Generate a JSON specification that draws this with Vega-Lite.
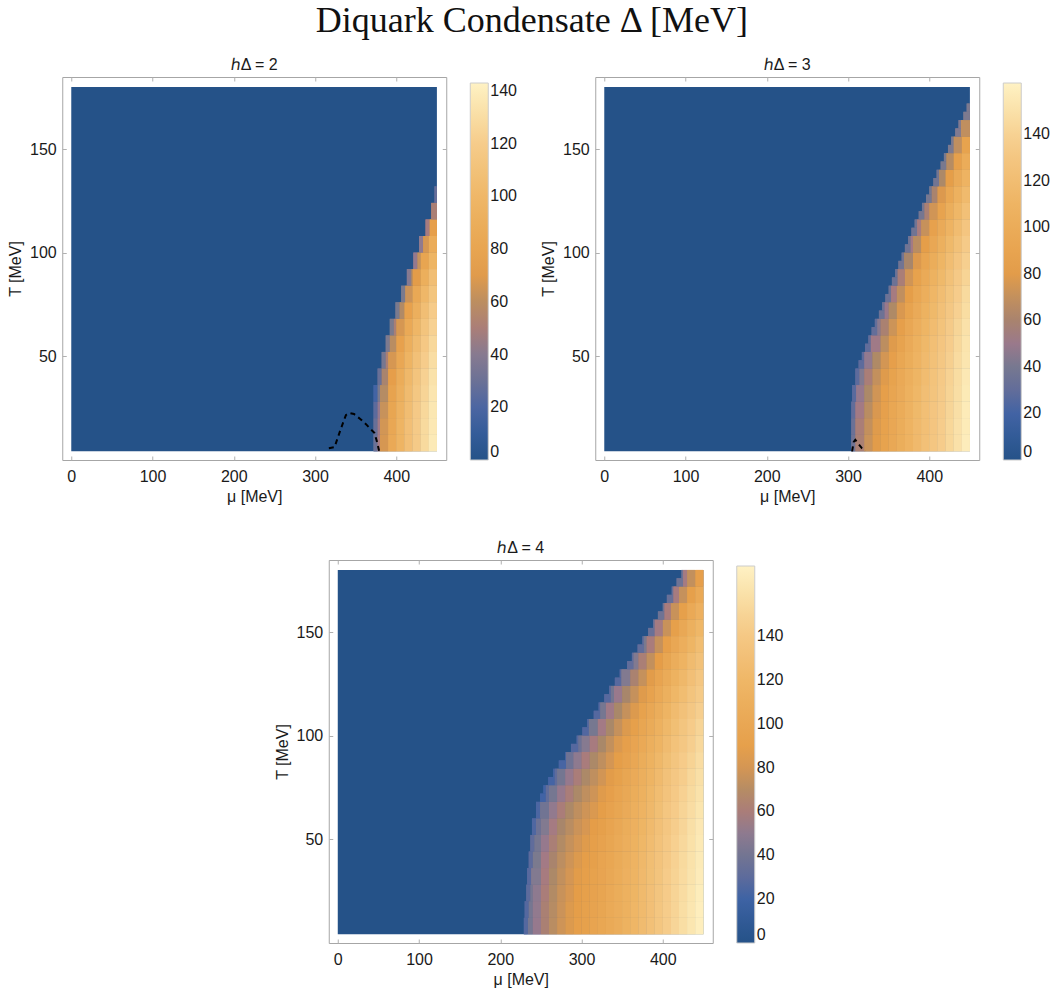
{
  "$schema": "https://vega.github.io/schema/vega-lite/v6.json",
  "background": "white",
  "padding": {"top": 3, "left": 7, "right": 5, "bottom": 5},
  "title": {"text": "Diquark Condensate Δ [MeV]", "font": "Liberation Serif", "fontSize": 36, "fontWeight": "normal", "color": "#111111", "anchor": "middle", "frame": "bounds", "offset": 16},
  "datasets": {
    "cells": [
      {"h":2,"t0":4,"t1":180,"m0":0,"m1":450,"D":0},
      {"h":2,"t0":4,"t1":12,"m0":372,"m1":377,"D":30},{"h":2,"t0":4,"t1":12,"m0":377,"m1":380,"D":48},{"h":2,"t0":4,"t1":12,"m0":380,"m1":390,"D":67},{"h":2,"t0":4,"t1":12,"m0":390,"m1":400,"D":85},{"h":2,"t0":4,"t1":12,"m0":400,"m1":410,"D":97},{"h":2,"t0":4,"t1":12,"m0":410,"m1":420,"D":108},{"h":2,"t0":4,"t1":12,"m0":420,"m1":430,"D":118},{"h":2,"t0":4,"t1":12,"m0":430,"m1":440,"D":128},{"h":2,"t0":4,"t1":12,"m0":440,"m1":450,"D":138},
      {"h":2,"t0":12,"t1":20,"m0":372,"m1":377,"D":29},{"h":2,"t0":12,"t1":20,"m0":377,"m1":380,"D":46},{"h":2,"t0":12,"t1":20,"m0":380,"m1":390,"D":66},{"h":2,"t0":12,"t1":20,"m0":390,"m1":400,"D":83},{"h":2,"t0":12,"t1":20,"m0":400,"m1":410,"D":97},{"h":2,"t0":12,"t1":20,"m0":410,"m1":420,"D":108},{"h":2,"t0":12,"t1":20,"m0":420,"m1":430,"D":118},{"h":2,"t0":12,"t1":20,"m0":430,"m1":440,"D":128},{"h":2,"t0":12,"t1":20,"m0":440,"m1":450,"D":137},
      {"h":2,"t0":20,"t1":28,"m0":372,"m1":377,"D":25},{"h":2,"t0":20,"t1":28,"m0":377,"m1":380,"D":43},{"h":2,"t0":20,"t1":28,"m0":380,"m1":390,"D":63},{"h":2,"t0":20,"t1":28,"m0":390,"m1":400,"D":81},{"h":2,"t0":20,"t1":28,"m0":400,"m1":410,"D":95},{"h":2,"t0":20,"t1":28,"m0":410,"m1":420,"D":106},{"h":2,"t0":20,"t1":28,"m0":420,"m1":430,"D":117},{"h":2,"t0":20,"t1":28,"m0":430,"m1":440,"D":127},{"h":2,"t0":20,"t1":28,"m0":440,"m1":450,"D":136},
      {"h":2,"t0":28,"t1":36,"m0":372,"m1":377,"D":18},{"h":2,"t0":28,"t1":36,"m0":377,"m1":380,"D":37},{"h":2,"t0":28,"t1":36,"m0":380,"m1":390,"D":58},{"h":2,"t0":28,"t1":36,"m0":390,"m1":400,"D":78},{"h":2,"t0":28,"t1":36,"m0":400,"m1":410,"D":92},{"h":2,"t0":28,"t1":36,"m0":410,"m1":420,"D":104},{"h":2,"t0":28,"t1":36,"m0":420,"m1":430,"D":115},{"h":2,"t0":28,"t1":36,"m0":430,"m1":440,"D":125},{"h":2,"t0":28,"t1":36,"m0":440,"m1":450,"D":135},
      {"h":2,"t0":36,"t1":44,"m0":377,"m1":382,"D":29},{"h":2,"t0":36,"t1":44,"m0":382,"m1":390,"D":53},{"h":2,"t0":36,"t1":44,"m0":390,"m1":400,"D":73},{"h":2,"t0":36,"t1":44,"m0":400,"m1":410,"D":88},{"h":2,"t0":36,"t1":44,"m0":410,"m1":420,"D":101},{"h":2,"t0":36,"t1":44,"m0":420,"m1":430,"D":112},{"h":2,"t0":36,"t1":44,"m0":430,"m1":440,"D":123},{"h":2,"t0":36,"t1":44,"m0":440,"m1":450,"D":133},
      {"h":2,"t0":44,"t1":52,"m0":382,"m1":387,"D":35},{"h":2,"t0":44,"t1":52,"m0":387,"m1":390,"D":51},{"h":2,"t0":44,"t1":52,"m0":390,"m1":400,"D":67},{"h":2,"t0":44,"t1":52,"m0":400,"m1":410,"D":83},{"h":2,"t0":44,"t1":52,"m0":410,"m1":420,"D":97},{"h":2,"t0":44,"t1":52,"m0":420,"m1":430,"D":109},{"h":2,"t0":44,"t1":52,"m0":430,"m1":440,"D":120},{"h":2,"t0":44,"t1":52,"m0":440,"m1":450,"D":130},
      {"h":2,"t0":52,"t1":60,"m0":387,"m1":392,"D":38},{"h":2,"t0":52,"t1":60,"m0":392,"m1":400,"D":59},{"h":2,"t0":52,"t1":60,"m0":400,"m1":410,"D":76},{"h":2,"t0":52,"t1":60,"m0":410,"m1":420,"D":92},{"h":2,"t0":52,"t1":60,"m0":420,"m1":430,"D":104},{"h":2,"t0":52,"t1":60,"m0":430,"m1":440,"D":116},{"h":2,"t0":52,"t1":60,"m0":440,"m1":450,"D":127},
      {"h":2,"t0":60,"t1":68,"m0":392,"m1":397,"D":37},{"h":2,"t0":60,"t1":68,"m0":397,"m1":400,"D":51},{"h":2,"t0":60,"t1":68,"m0":400,"m1":410,"D":67},{"h":2,"t0":60,"t1":68,"m0":410,"m1":420,"D":85},{"h":2,"t0":60,"t1":68,"m0":420,"m1":430,"D":99},{"h":2,"t0":60,"t1":68,"m0":430,"m1":440,"D":112},{"h":2,"t0":60,"t1":68,"m0":440,"m1":450,"D":123},
      {"h":2,"t0":68,"t1":76,"m0":399,"m1":404,"D":37},{"h":2,"t0":68,"t1":76,"m0":404,"m1":410,"D":57},{"h":2,"t0":68,"t1":76,"m0":410,"m1":420,"D":76},{"h":2,"t0":68,"t1":76,"m0":420,"m1":430,"D":92},{"h":2,"t0":68,"t1":76,"m0":430,"m1":440,"D":107},{"h":2,"t0":68,"t1":76,"m0":440,"m1":450,"D":119},
      {"h":2,"t0":76,"t1":84,"m0":406,"m1":411,"D":37},{"h":2,"t0":76,"t1":84,"m0":411,"m1":420,"D":64},{"h":2,"t0":76,"t1":84,"m0":420,"m1":430,"D":84},{"h":2,"t0":76,"t1":84,"m0":430,"m1":440,"D":100},{"h":2,"t0":76,"t1":84,"m0":440,"m1":450,"D":113},
      {"h":2,"t0":84,"t1":92,"m0":413,"m1":418,"D":40},{"h":2,"t0":84,"t1":92,"m0":418,"m1":420,"D":54},{"h":2,"t0":84,"t1":92,"m0":420,"m1":430,"D":71},{"h":2,"t0":84,"t1":92,"m0":430,"m1":440,"D":91},{"h":2,"t0":84,"t1":92,"m0":440,"m1":450,"D":107},
      {"h":2,"t0":92,"t1":100,"m0":421,"m1":426,"D":43},{"h":2,"t0":92,"t1":100,"m0":426,"m1":430,"D":62},{"h":2,"t0":92,"t1":100,"m0":430,"m1":440,"D":80},{"h":2,"t0":92,"t1":100,"m0":440,"m1":450,"D":98},
      {"h":2,"t0":100,"t1":108,"m0":428,"m1":433,"D":42},{"h":2,"t0":100,"t1":108,"m0":433,"m1":440,"D":67},{"h":2,"t0":100,"t1":108,"m0":440,"m1":450,"D":88},
      {"h":2,"t0":108,"t1":116,"m0":436,"m1":441,"D":48},{"h":2,"t0":108,"t1":116,"m0":441,"m1":450,"D":74},
      {"h":2,"t0":116,"t1":124,"m0":443,"m1":450,"D":51},
      {"h":2,"t0":124,"t1":132,"m0":447,"m1":450,"D":28},

      {"h":3,"t0":4,"t1":180,"m0":0,"m1":450,"D":0},
      {"h":3,"t0":4,"t1":12,"m0":304,"m1":309,"D":36},{"h":3,"t0":4,"t1":12,"m0":309,"m1":320,"D":58},{"h":3,"t0":4,"t1":12,"m0":320,"m1":330,"D":72},{"h":3,"t0":4,"t1":12,"m0":330,"m1":340,"D":80},{"h":3,"t0":4,"t1":12,"m0":340,"m1":350,"D":88},{"h":3,"t0":4,"t1":12,"m0":350,"m1":360,"D":95},{"h":3,"t0":4,"t1":12,"m0":360,"m1":370,"D":102},{"h":3,"t0":4,"t1":12,"m0":370,"m1":380,"D":109},{"h":3,"t0":4,"t1":12,"m0":380,"m1":390,"D":116},{"h":3,"t0":4,"t1":12,"m0":390,"m1":400,"D":123},{"h":3,"t0":4,"t1":12,"m0":400,"m1":410,"D":130},{"h":3,"t0":4,"t1":12,"m0":410,"m1":420,"D":136},{"h":3,"t0":4,"t1":12,"m0":420,"m1":430,"D":143},{"h":3,"t0":4,"t1":12,"m0":430,"m1":440,"D":150},{"h":3,"t0":4,"t1":12,"m0":440,"m1":450,"D":158},
      {"h":3,"t0":12,"t1":20,"m0":304,"m1":309,"D":34},{"h":3,"t0":12,"t1":20,"m0":309,"m1":320,"D":57},{"h":3,"t0":12,"t1":20,"m0":320,"m1":330,"D":70},{"h":3,"t0":12,"t1":20,"m0":330,"m1":340,"D":79},{"h":3,"t0":12,"t1":20,"m0":340,"m1":350,"D":87},{"h":3,"t0":12,"t1":20,"m0":350,"m1":360,"D":94},{"h":3,"t0":12,"t1":20,"m0":360,"m1":370,"D":101},{"h":3,"t0":12,"t1":20,"m0":370,"m1":380,"D":109},{"h":3,"t0":12,"t1":20,"m0":380,"m1":390,"D":116},{"h":3,"t0":12,"t1":20,"m0":390,"m1":400,"D":122},{"h":3,"t0":12,"t1":20,"m0":400,"m1":410,"D":129},{"h":3,"t0":12,"t1":20,"m0":410,"m1":420,"D":136},{"h":3,"t0":12,"t1":20,"m0":420,"m1":430,"D":143},{"h":3,"t0":12,"t1":20,"m0":430,"m1":440,"D":150},{"h":3,"t0":12,"t1":20,"m0":440,"m1":450,"D":157},
      {"h":3,"t0":20,"t1":28,"m0":304,"m1":309,"D":30},{"h":3,"t0":20,"t1":28,"m0":309,"m1":320,"D":53},{"h":3,"t0":20,"t1":28,"m0":320,"m1":330,"D":67},{"h":3,"t0":20,"t1":28,"m0":330,"m1":340,"D":77},{"h":3,"t0":20,"t1":28,"m0":340,"m1":350,"D":85},{"h":3,"t0":20,"t1":28,"m0":350,"m1":360,"D":93},{"h":3,"t0":20,"t1":28,"m0":360,"m1":370,"D":100},{"h":3,"t0":20,"t1":28,"m0":370,"m1":380,"D":108},{"h":3,"t0":20,"t1":28,"m0":380,"m1":390,"D":115},{"h":3,"t0":20,"t1":28,"m0":390,"m1":400,"D":122},{"h":3,"t0":20,"t1":28,"m0":400,"m1":410,"D":129},{"h":3,"t0":20,"t1":28,"m0":410,"m1":420,"D":135},{"h":3,"t0":20,"t1":28,"m0":420,"m1":430,"D":142},{"h":3,"t0":20,"t1":28,"m0":430,"m1":440,"D":149},{"h":3,"t0":20,"t1":28,"m0":440,"m1":450,"D":157},
      {"h":3,"t0":28,"t1":36,"m0":305,"m1":310,"D":27},{"h":3,"t0":28,"t1":36,"m0":310,"m1":320,"D":49},{"h":3,"t0":28,"t1":36,"m0":320,"m1":330,"D":63},{"h":3,"t0":28,"t1":36,"m0":330,"m1":340,"D":74},{"h":3,"t0":28,"t1":36,"m0":340,"m1":350,"D":83},{"h":3,"t0":28,"t1":36,"m0":350,"m1":360,"D":91},{"h":3,"t0":28,"t1":36,"m0":360,"m1":370,"D":98},{"h":3,"t0":28,"t1":36,"m0":370,"m1":380,"D":106},{"h":3,"t0":28,"t1":36,"m0":380,"m1":390,"D":113},{"h":3,"t0":28,"t1":36,"m0":390,"m1":400,"D":121},{"h":3,"t0":28,"t1":36,"m0":400,"m1":410,"D":127},{"h":3,"t0":28,"t1":36,"m0":410,"m1":420,"D":134},{"h":3,"t0":28,"t1":36,"m0":420,"m1":430,"D":141},{"h":3,"t0":28,"t1":36,"m0":430,"m1":440,"D":148},{"h":3,"t0":28,"t1":36,"m0":440,"m1":450,"D":156},
      {"h":3,"t0":36,"t1":44,"m0":309,"m1":314,"D":28},{"h":3,"t0":36,"t1":44,"m0":314,"m1":320,"D":44},{"h":3,"t0":36,"t1":44,"m0":320,"m1":330,"D":57},{"h":3,"t0":36,"t1":44,"m0":330,"m1":340,"D":70},{"h":3,"t0":36,"t1":44,"m0":340,"m1":350,"D":79},{"h":3,"t0":36,"t1":44,"m0":350,"m1":360,"D":88},{"h":3,"t0":36,"t1":44,"m0":360,"m1":370,"D":96},{"h":3,"t0":36,"t1":44,"m0":370,"m1":380,"D":104},{"h":3,"t0":36,"t1":44,"m0":380,"m1":390,"D":111},{"h":3,"t0":36,"t1":44,"m0":390,"m1":400,"D":119},{"h":3,"t0":36,"t1":44,"m0":400,"m1":410,"D":126},{"h":3,"t0":36,"t1":44,"m0":410,"m1":420,"D":133},{"h":3,"t0":36,"t1":44,"m0":420,"m1":430,"D":140},{"h":3,"t0":36,"t1":44,"m0":430,"m1":440,"D":147},{"h":3,"t0":36,"t1":44,"m0":440,"m1":450,"D":155},
      {"h":3,"t0":44,"t1":48,"m0":313,"m1":320,"D":28},{"h":3,"t0":48,"t1":52,"m0":317,"m1":320,"D":28},{"h":3,"t0":44,"t1":52,"m0":320,"m1":330,"D":48},{"h":3,"t0":44,"t1":52,"m0":330,"m1":340,"D":64},{"h":3,"t0":44,"t1":52,"m0":340,"m1":350,"D":75},{"h":3,"t0":44,"t1":52,"m0":350,"m1":360,"D":84},{"h":3,"t0":44,"t1":52,"m0":360,"m1":370,"D":93},{"h":3,"t0":44,"t1":52,"m0":370,"m1":380,"D":101},{"h":3,"t0":44,"t1":52,"m0":380,"m1":390,"D":109},{"h":3,"t0":44,"t1":52,"m0":390,"m1":400,"D":117},{"h":3,"t0":44,"t1":52,"m0":400,"m1":410,"D":124},{"h":3,"t0":44,"t1":52,"m0":410,"m1":420,"D":131},{"h":3,"t0":44,"t1":52,"m0":420,"m1":430,"D":138},{"h":3,"t0":44,"t1":52,"m0":430,"m1":440,"D":146},{"h":3,"t0":44,"t1":52,"m0":440,"m1":450,"D":153},
      {"h":3,"t0":52,"t1":56,"m0":321,"m1":328,"D":30},{"h":3,"t0":56,"t1":60,"m0":325,"m1":328,"D":30},{"h":3,"t0":52,"t1":60,"m0":328,"m1":340,"D":52},{"h":3,"t0":52,"t1":60,"m0":340,"m1":350,"D":68},{"h":3,"t0":52,"t1":60,"m0":350,"m1":360,"D":79},{"h":3,"t0":52,"t1":60,"m0":360,"m1":370,"D":89},{"h":3,"t0":52,"t1":60,"m0":370,"m1":380,"D":98},{"h":3,"t0":52,"t1":60,"m0":380,"m1":390,"D":106},{"h":3,"t0":52,"t1":60,"m0":390,"m1":400,"D":114},{"h":3,"t0":52,"t1":60,"m0":400,"m1":410,"D":122},{"h":3,"t0":52,"t1":60,"m0":410,"m1":420,"D":129},{"h":3,"t0":52,"t1":60,"m0":420,"m1":430,"D":136},{"h":3,"t0":52,"t1":60,"m0":430,"m1":440,"D":144},{"h":3,"t0":52,"t1":60,"m0":440,"m1":450,"D":152},
      {"h":3,"t0":60,"t1":64,"m0":329,"m1":336,"D":31},{"h":3,"t0":64,"t1":68,"m0":333,"m1":336,"D":31},{"h":3,"t0":60,"t1":68,"m0":336,"m1":340,"D":46},{"h":3,"t0":60,"t1":68,"m0":340,"m1":350,"D":59},{"h":3,"t0":60,"t1":68,"m0":350,"m1":360,"D":73},{"h":3,"t0":60,"t1":68,"m0":360,"m1":370,"D":84},{"h":3,"t0":60,"t1":68,"m0":370,"m1":380,"D":94},{"h":3,"t0":60,"t1":68,"m0":380,"m1":390,"D":103},{"h":3,"t0":60,"t1":68,"m0":390,"m1":400,"D":111},{"h":3,"t0":60,"t1":68,"m0":400,"m1":410,"D":119},{"h":3,"t0":60,"t1":68,"m0":410,"m1":420,"D":126},{"h":3,"t0":60,"t1":68,"m0":420,"m1":430,"D":134},{"h":3,"t0":60,"t1":68,"m0":430,"m1":440,"D":142},{"h":3,"t0":60,"t1":68,"m0":440,"m1":450,"D":150},
      {"h":3,"t0":68,"t1":72,"m0":338,"m1":345,"D":35},{"h":3,"t0":72,"t1":76,"m0":342,"m1":345,"D":35},{"h":3,"t0":68,"t1":76,"m0":345,"m1":350,"D":50},{"h":3,"t0":68,"t1":76,"m0":350,"m1":360,"D":64},{"h":3,"t0":68,"t1":76,"m0":360,"m1":370,"D":77},{"h":3,"t0":68,"t1":76,"m0":370,"m1":380,"D":89},{"h":3,"t0":68,"t1":76,"m0":380,"m1":390,"D":98},{"h":3,"t0":68,"t1":76,"m0":390,"m1":400,"D":107},{"h":3,"t0":68,"t1":76,"m0":400,"m1":410,"D":115},{"h":3,"t0":68,"t1":76,"m0":410,"m1":420,"D":123},{"h":3,"t0":68,"t1":76,"m0":420,"m1":430,"D":131},{"h":3,"t0":68,"t1":76,"m0":430,"m1":440,"D":139},{"h":3,"t0":68,"t1":76,"m0":440,"m1":450,"D":147},
      {"h":3,"t0":76,"t1":80,"m0":346,"m1":353,"D":35},{"h":3,"t0":80,"t1":84,"m0":350,"m1":353,"D":35},{"h":3,"t0":76,"t1":84,"m0":353,"m1":360,"D":54},{"h":3,"t0":76,"t1":84,"m0":360,"m1":370,"D":69},{"h":3,"t0":76,"t1":84,"m0":370,"m1":380,"D":82},{"h":3,"t0":76,"t1":84,"m0":380,"m1":390,"D":93},{"h":3,"t0":76,"t1":84,"m0":390,"m1":400,"D":103},{"h":3,"t0":76,"t1":84,"m0":400,"m1":410,"D":112},{"h":3,"t0":76,"t1":84,"m0":410,"m1":420,"D":120},{"h":3,"t0":76,"t1":84,"m0":420,"m1":430,"D":128},{"h":3,"t0":76,"t1":84,"m0":430,"m1":440,"D":136},{"h":3,"t0":76,"t1":84,"m0":440,"m1":450,"D":145},
      {"h":3,"t0":84,"t1":88,"m0":354,"m1":361,"D":35},{"h":3,"t0":88,"t1":92,"m0":358,"m1":361,"D":35},{"h":3,"t0":84,"t1":92,"m0":361,"m1":370,"D":57},{"h":3,"t0":84,"t1":92,"m0":370,"m1":380,"D":74},{"h":3,"t0":84,"t1":92,"m0":380,"m1":390,"D":87},{"h":3,"t0":84,"t1":92,"m0":390,"m1":400,"D":97},{"h":3,"t0":84,"t1":92,"m0":400,"m1":410,"D":107},{"h":3,"t0":84,"t1":92,"m0":410,"m1":420,"D":115},{"h":3,"t0":84,"t1":92,"m0":420,"m1":430,"D":124},{"h":3,"t0":84,"t1":92,"m0":430,"m1":440,"D":133},{"h":3,"t0":84,"t1":92,"m0":440,"m1":450,"D":141},
      {"h":3,"t0":92,"t1":96,"m0":362,"m1":369,"D":37},{"h":3,"t0":96,"t1":100,"m0":366,"m1":369,"D":37},{"h":3,"t0":92,"t1":100,"m0":369,"m1":380,"D":61},{"h":3,"t0":92,"t1":100,"m0":380,"m1":390,"D":78},{"h":3,"t0":92,"t1":100,"m0":390,"m1":400,"D":91},{"h":3,"t0":92,"t1":100,"m0":400,"m1":410,"D":101},{"h":3,"t0":92,"t1":100,"m0":410,"m1":420,"D":111},{"h":3,"t0":92,"t1":100,"m0":420,"m1":430,"D":120},{"h":3,"t0":92,"t1":100,"m0":430,"m1":440,"D":129},{"h":3,"t0":92,"t1":100,"m0":440,"m1":450,"D":138},
      {"h":3,"t0":100,"t1":104,"m0":370,"m1":377,"D":37},{"h":3,"t0":104,"t1":108,"m0":374,"m1":377,"D":37},{"h":3,"t0":100,"t1":108,"m0":377,"m1":380,"D":53},{"h":3,"t0":100,"t1":108,"m0":380,"m1":390,"D":67},{"h":3,"t0":100,"t1":108,"m0":390,"m1":400,"D":82},{"h":3,"t0":100,"t1":108,"m0":400,"m1":410,"D":94},{"h":3,"t0":100,"t1":108,"m0":410,"m1":420,"D":105},{"h":3,"t0":100,"t1":108,"m0":420,"m1":430,"D":115},{"h":3,"t0":100,"t1":108,"m0":430,"m1":440,"D":124},{"h":3,"t0":100,"t1":108,"m0":440,"m1":450,"D":134},
      {"h":3,"t0":108,"t1":112,"m0":378,"m1":385,"D":37},{"h":3,"t0":112,"t1":116,"m0":382,"m1":385,"D":37},{"h":3,"t0":108,"t1":116,"m0":385,"m1":390,"D":55},{"h":3,"t0":108,"t1":116,"m0":390,"m1":400,"D":71},{"h":3,"t0":108,"t1":116,"m0":400,"m1":410,"D":86},{"h":3,"t0":108,"t1":116,"m0":410,"m1":420,"D":98},{"h":3,"t0":108,"t1":116,"m0":420,"m1":430,"D":109},{"h":3,"t0":108,"t1":116,"m0":430,"m1":440,"D":119},{"h":3,"t0":108,"t1":116,"m0":440,"m1":450,"D":129},
      {"h":3,"t0":116,"t1":120,"m0":387,"m1":394,"D":39},{"h":3,"t0":120,"t1":124,"m0":391,"m1":394,"D":39},{"h":3,"t0":116,"t1":124,"m0":394,"m1":400,"D":58},{"h":3,"t0":116,"t1":124,"m0":400,"m1":410,"D":74},{"h":3,"t0":116,"t1":124,"m0":410,"m1":420,"D":89},{"h":3,"t0":116,"t1":124,"m0":420,"m1":430,"D":102},{"h":3,"t0":116,"t1":124,"m0":430,"m1":440,"D":113},{"h":3,"t0":116,"t1":124,"m0":440,"m1":450,"D":123},
      {"h":3,"t0":124,"t1":128,"m0":396,"m1":403,"D":40},{"h":3,"t0":128,"t1":132,"m0":400,"m1":403,"D":40},{"h":3,"t0":124,"t1":132,"m0":403,"m1":410,"D":60},{"h":3,"t0":124,"t1":132,"m0":410,"m1":420,"D":78},{"h":3,"t0":124,"t1":132,"m0":420,"m1":430,"D":93},{"h":3,"t0":124,"t1":132,"m0":430,"m1":440,"D":106},{"h":3,"t0":124,"t1":132,"m0":440,"m1":450,"D":117},
      {"h":3,"t0":132,"t1":136,"m0":405,"m1":412,"D":38},{"h":3,"t0":136,"t1":140,"m0":409,"m1":412,"D":38},{"h":3,"t0":132,"t1":140,"m0":412,"m1":420,"D":63},{"h":3,"t0":132,"t1":140,"m0":420,"m1":430,"D":82},{"h":3,"t0":132,"t1":140,"m0":430,"m1":440,"D":97},{"h":3,"t0":132,"t1":140,"m0":440,"m1":450,"D":109},
      {"h":3,"t0":140,"t1":144,"m0":414,"m1":421,"D":41},{"h":3,"t0":144,"t1":148,"m0":418,"m1":421,"D":41},{"h":3,"t0":140,"t1":148,"m0":421,"m1":430,"D":66},{"h":3,"t0":140,"t1":148,"m0":430,"m1":440,"D":85},{"h":3,"t0":140,"t1":148,"m0":440,"m1":450,"D":100},
      {"h":3,"t0":148,"t1":152,"m0":423,"m1":430,"D":43},{"h":3,"t0":152,"t1":156,"m0":427,"m1":430,"D":43},{"h":3,"t0":148,"t1":156,"m0":430,"m1":440,"D":69},{"h":3,"t0":148,"t1":156,"m0":440,"m1":450,"D":88},
      {"h":3,"t0":156,"t1":160,"m0":432,"m1":439,"D":44},{"h":3,"t0":160,"t1":164,"m0":436,"m1":439,"D":44},{"h":3,"t0":156,"t1":164,"m0":439,"m1":450,"D":69},
      {"h":3,"t0":164,"t1":168,"m0":442,"m1":450,"D":43},{"h":3,"t0":168,"t1":172,"m0":446,"m1":450,"D":43},

      {"h":4,"t0":4,"t1":180,"m0":0,"m1":450,"D":0},
      {"h":4,"t0":4,"t1":12,"m0":229,"m1":234,"D":27},{"h":4,"t0":4,"t1":12,"m0":234,"m1":240,"D":42},{"h":4,"t0":4,"t1":12,"m0":240,"m1":250,"D":52},{"h":4,"t0":4,"t1":12,"m0":250,"m1":260,"D":62},{"h":4,"t0":4,"t1":12,"m0":260,"m1":270,"D":71},{"h":4,"t0":4,"t1":12,"m0":270,"m1":280,"D":78},{"h":4,"t0":4,"t1":12,"m0":280,"m1":290,"D":83},{"h":4,"t0":4,"t1":12,"m0":290,"m1":300,"D":88},{"h":4,"t0":4,"t1":12,"m0":300,"m1":310,"D":91},{"h":4,"t0":4,"t1":12,"m0":310,"m1":320,"D":95},{"h":4,"t0":4,"t1":12,"m0":320,"m1":330,"D":99},{"h":4,"t0":4,"t1":12,"m0":330,"m1":340,"D":103},{"h":4,"t0":4,"t1":12,"m0":340,"m1":350,"D":108},{"h":4,"t0":4,"t1":12,"m0":350,"m1":360,"D":114},{"h":4,"t0":4,"t1":12,"m0":360,"m1":370,"D":119},{"h":4,"t0":4,"t1":12,"m0":370,"m1":380,"D":125},{"h":4,"t0":4,"t1":12,"m0":380,"m1":390,"D":131},{"h":4,"t0":4,"t1":12,"m0":390,"m1":400,"D":137},{"h":4,"t0":4,"t1":12,"m0":400,"m1":410,"D":144},{"h":4,"t0":4,"t1":12,"m0":410,"m1":420,"D":151},{"h":4,"t0":4,"t1":12,"m0":420,"m1":430,"D":157},{"h":4,"t0":4,"t1":12,"m0":430,"m1":440,"D":163},{"h":4,"t0":4,"t1":12,"m0":440,"m1":450,"D":169},
      {"h":4,"t0":12,"t1":20,"m0":230,"m1":235,"D":27},{"h":4,"t0":12,"t1":20,"m0":235,"m1":240,"D":42},{"h":4,"t0":12,"t1":20,"m0":240,"m1":250,"D":51},{"h":4,"t0":12,"t1":20,"m0":250,"m1":260,"D":62},{"h":4,"t0":12,"t1":20,"m0":260,"m1":270,"D":70},{"h":4,"t0":12,"t1":20,"m0":270,"m1":280,"D":77},{"h":4,"t0":12,"t1":20,"m0":280,"m1":290,"D":83},{"h":4,"t0":12,"t1":20,"m0":290,"m1":300,"D":87},{"h":4,"t0":12,"t1":20,"m0":300,"m1":310,"D":91},{"h":4,"t0":12,"t1":20,"m0":310,"m1":320,"D":94},{"h":4,"t0":12,"t1":20,"m0":320,"m1":330,"D":98},{"h":4,"t0":12,"t1":20,"m0":330,"m1":340,"D":103},{"h":4,"t0":12,"t1":20,"m0":340,"m1":350,"D":108},{"h":4,"t0":12,"t1":20,"m0":350,"m1":360,"D":113},{"h":4,"t0":12,"t1":20,"m0":360,"m1":370,"D":119},{"h":4,"t0":12,"t1":20,"m0":370,"m1":380,"D":124},{"h":4,"t0":12,"t1":20,"m0":380,"m1":390,"D":130},{"h":4,"t0":12,"t1":20,"m0":390,"m1":400,"D":137},{"h":4,"t0":12,"t1":20,"m0":400,"m1":410,"D":144},{"h":4,"t0":12,"t1":20,"m0":410,"m1":420,"D":150},{"h":4,"t0":12,"t1":20,"m0":420,"m1":430,"D":157},{"h":4,"t0":12,"t1":20,"m0":430,"m1":440,"D":163},{"h":4,"t0":12,"t1":20,"m0":440,"m1":450,"D":169},
      {"h":4,"t0":20,"t1":28,"m0":232,"m1":237,"D":30},{"h":4,"t0":20,"t1":28,"m0":237,"m1":240,"D":42},{"h":4,"t0":20,"t1":28,"m0":240,"m1":250,"D":50},{"h":4,"t0":20,"t1":28,"m0":250,"m1":260,"D":60},{"h":4,"t0":20,"t1":28,"m0":260,"m1":270,"D":69},{"h":4,"t0":20,"t1":28,"m0":270,"m1":280,"D":76},{"h":4,"t0":20,"t1":28,"m0":280,"m1":290,"D":81},{"h":4,"t0":20,"t1":28,"m0":290,"m1":300,"D":86},{"h":4,"t0":20,"t1":28,"m0":300,"m1":310,"D":90},{"h":4,"t0":20,"t1":28,"m0":310,"m1":320,"D":93},{"h":4,"t0":20,"t1":28,"m0":320,"m1":330,"D":97},{"h":4,"t0":20,"t1":28,"m0":330,"m1":340,"D":102},{"h":4,"t0":20,"t1":28,"m0":340,"m1":350,"D":107},{"h":4,"t0":20,"t1":28,"m0":350,"m1":360,"D":113},{"h":4,"t0":20,"t1":28,"m0":360,"m1":370,"D":118},{"h":4,"t0":20,"t1":28,"m0":370,"m1":380,"D":124},{"h":4,"t0":20,"t1":28,"m0":380,"m1":390,"D":130},{"h":4,"t0":20,"t1":28,"m0":390,"m1":400,"D":136},{"h":4,"t0":20,"t1":28,"m0":400,"m1":410,"D":143},{"h":4,"t0":20,"t1":28,"m0":410,"m1":420,"D":150},{"h":4,"t0":20,"t1":28,"m0":420,"m1":430,"D":156},{"h":4,"t0":20,"t1":28,"m0":430,"m1":440,"D":162},{"h":4,"t0":20,"t1":28,"m0":440,"m1":450,"D":168},
      {"h":4,"t0":28,"t1":36,"m0":233,"m1":238,"D":28},{"h":4,"t0":28,"t1":36,"m0":238,"m1":250,"D":47},{"h":4,"t0":28,"t1":36,"m0":250,"m1":260,"D":58},{"h":4,"t0":28,"t1":36,"m0":260,"m1":270,"D":67},{"h":4,"t0":28,"t1":36,"m0":270,"m1":280,"D":74},{"h":4,"t0":28,"t1":36,"m0":280,"m1":290,"D":80},{"h":4,"t0":28,"t1":36,"m0":290,"m1":300,"D":85},{"h":4,"t0":28,"t1":36,"m0":300,"m1":310,"D":88},{"h":4,"t0":28,"t1":36,"m0":310,"m1":320,"D":92},{"h":4,"t0":28,"t1":36,"m0":320,"m1":330,"D":96},{"h":4,"t0":28,"t1":36,"m0":330,"m1":340,"D":101},{"h":4,"t0":28,"t1":36,"m0":340,"m1":350,"D":106},{"h":4,"t0":28,"t1":36,"m0":350,"m1":360,"D":112},{"h":4,"t0":28,"t1":36,"m0":360,"m1":370,"D":117},{"h":4,"t0":28,"t1":36,"m0":370,"m1":380,"D":123},{"h":4,"t0":28,"t1":36,"m0":380,"m1":390,"D":129},{"h":4,"t0":28,"t1":36,"m0":390,"m1":400,"D":135},{"h":4,"t0":28,"t1":36,"m0":400,"m1":410,"D":143},{"h":4,"t0":28,"t1":36,"m0":410,"m1":420,"D":149},{"h":4,"t0":28,"t1":36,"m0":420,"m1":430,"D":155},{"h":4,"t0":28,"t1":36,"m0":430,"m1":440,"D":161},{"h":4,"t0":28,"t1":36,"m0":440,"m1":450,"D":167},
      {"h":4,"t0":36,"t1":44,"m0":235,"m1":240,"D":30},{"h":4,"t0":36,"t1":44,"m0":240,"m1":250,"D":45},{"h":4,"t0":36,"t1":44,"m0":250,"m1":260,"D":56},{"h":4,"t0":36,"t1":44,"m0":260,"m1":270,"D":64},{"h":4,"t0":36,"t1":44,"m0":270,"m1":280,"D":72},{"h":4,"t0":36,"t1":44,"m0":280,"m1":290,"D":78},{"h":4,"t0":36,"t1":44,"m0":290,"m1":300,"D":83},{"h":4,"t0":36,"t1":44,"m0":300,"m1":310,"D":87},{"h":4,"t0":36,"t1":44,"m0":310,"m1":320,"D":90},{"h":4,"t0":36,"t1":44,"m0":320,"m1":330,"D":95},{"h":4,"t0":36,"t1":44,"m0":330,"m1":340,"D":99},{"h":4,"t0":36,"t1":44,"m0":340,"m1":350,"D":105},{"h":4,"t0":36,"t1":44,"m0":350,"m1":360,"D":110},{"h":4,"t0":36,"t1":44,"m0":360,"m1":370,"D":116},{"h":4,"t0":36,"t1":44,"m0":370,"m1":380,"D":122},{"h":4,"t0":36,"t1":44,"m0":380,"m1":390,"D":128},{"h":4,"t0":36,"t1":44,"m0":390,"m1":400,"D":134},{"h":4,"t0":36,"t1":44,"m0":400,"m1":410,"D":141},{"h":4,"t0":36,"t1":44,"m0":410,"m1":420,"D":148},{"h":4,"t0":36,"t1":44,"m0":420,"m1":430,"D":154},{"h":4,"t0":36,"t1":44,"m0":430,"m1":440,"D":160},{"h":4,"t0":36,"t1":44,"m0":440,"m1":450,"D":166},
      {"h":4,"t0":44,"t1":52,"m0":237,"m1":242,"D":31},{"h":4,"t0":44,"t1":52,"m0":242,"m1":250,"D":42},{"h":4,"t0":44,"t1":52,"m0":250,"m1":260,"D":52},{"h":4,"t0":44,"t1":52,"m0":260,"m1":270,"D":61},{"h":4,"t0":44,"t1":52,"m0":270,"m1":280,"D":69},{"h":4,"t0":44,"t1":52,"m0":280,"m1":290,"D":75},{"h":4,"t0":44,"t1":52,"m0":290,"m1":300,"D":80},{"h":4,"t0":44,"t1":52,"m0":300,"m1":310,"D":84},{"h":4,"t0":44,"t1":52,"m0":310,"m1":320,"D":88},{"h":4,"t0":44,"t1":52,"m0":320,"m1":330,"D":93},{"h":4,"t0":44,"t1":52,"m0":330,"m1":340,"D":98},{"h":4,"t0":44,"t1":52,"m0":340,"m1":350,"D":103},{"h":4,"t0":44,"t1":52,"m0":350,"m1":360,"D":109},{"h":4,"t0":44,"t1":52,"m0":360,"m1":370,"D":114},{"h":4,"t0":44,"t1":52,"m0":370,"m1":380,"D":120},{"h":4,"t0":44,"t1":52,"m0":380,"m1":390,"D":126},{"h":4,"t0":44,"t1":52,"m0":390,"m1":400,"D":133},{"h":4,"t0":44,"t1":52,"m0":400,"m1":410,"D":140},{"h":4,"t0":44,"t1":52,"m0":410,"m1":420,"D":147},{"h":4,"t0":44,"t1":52,"m0":420,"m1":430,"D":153},{"h":4,"t0":44,"t1":52,"m0":430,"m1":440,"D":159},{"h":4,"t0":44,"t1":52,"m0":440,"m1":450,"D":165},
      {"h":4,"t0":52,"t1":60,"m0":239,"m1":244,"D":25},{"h":4,"t0":52,"t1":60,"m0":244,"m1":250,"D":37},{"h":4,"t0":52,"t1":60,"m0":250,"m1":260,"D":47},{"h":4,"t0":52,"t1":60,"m0":260,"m1":270,"D":57},{"h":4,"t0":52,"t1":60,"m0":270,"m1":280,"D":65},{"h":4,"t0":52,"t1":60,"m0":280,"m1":290,"D":71},{"h":4,"t0":52,"t1":60,"m0":290,"m1":300,"D":77},{"h":4,"t0":52,"t1":60,"m0":300,"m1":310,"D":81},{"h":4,"t0":52,"t1":60,"m0":310,"m1":320,"D":86},{"h":4,"t0":52,"t1":60,"m0":320,"m1":330,"D":90},{"h":4,"t0":52,"t1":60,"m0":330,"m1":340,"D":95},{"h":4,"t0":52,"t1":60,"m0":340,"m1":350,"D":101},{"h":4,"t0":52,"t1":60,"m0":350,"m1":360,"D":107},{"h":4,"t0":52,"t1":60,"m0":360,"m1":370,"D":112},{"h":4,"t0":52,"t1":60,"m0":370,"m1":380,"D":118},{"h":4,"t0":52,"t1":60,"m0":380,"m1":390,"D":124},{"h":4,"t0":52,"t1":60,"m0":390,"m1":400,"D":131},{"h":4,"t0":52,"t1":60,"m0":400,"m1":410,"D":138},{"h":4,"t0":52,"t1":60,"m0":410,"m1":420,"D":145},{"h":4,"t0":52,"t1":60,"m0":420,"m1":430,"D":151},{"h":4,"t0":52,"t1":60,"m0":430,"m1":440,"D":158},{"h":4,"t0":52,"t1":60,"m0":440,"m1":450,"D":164},
      {"h":4,"t0":60,"t1":68,"m0":244,"m1":249,"D":24},{"h":4,"t0":60,"t1":68,"m0":249,"m1":260,"D":39},{"h":4,"t0":60,"t1":68,"m0":260,"m1":270,"D":51},{"h":4,"t0":60,"t1":68,"m0":270,"m1":280,"D":60},{"h":4,"t0":60,"t1":68,"m0":280,"m1":290,"D":67},{"h":4,"t0":60,"t1":68,"m0":290,"m1":300,"D":73},{"h":4,"t0":60,"t1":68,"m0":300,"m1":310,"D":78},{"h":4,"t0":60,"t1":68,"m0":310,"m1":320,"D":82},{"h":4,"t0":60,"t1":68,"m0":320,"m1":330,"D":87},{"h":4,"t0":60,"t1":68,"m0":330,"m1":340,"D":93},{"h":4,"t0":60,"t1":68,"m0":340,"m1":350,"D":98},{"h":4,"t0":60,"t1":68,"m0":350,"m1":360,"D":104},{"h":4,"t0":60,"t1":68,"m0":360,"m1":370,"D":110},{"h":4,"t0":60,"t1":68,"m0":370,"m1":380,"D":116},{"h":4,"t0":60,"t1":68,"m0":380,"m1":390,"D":122},{"h":4,"t0":60,"t1":68,"m0":390,"m1":400,"D":129},{"h":4,"t0":60,"t1":68,"m0":400,"m1":410,"D":137},{"h":4,"t0":60,"t1":68,"m0":410,"m1":420,"D":143},{"h":4,"t0":60,"t1":68,"m0":420,"m1":430,"D":150},{"h":4,"t0":60,"t1":68,"m0":430,"m1":440,"D":156},{"h":4,"t0":60,"t1":68,"m0":440,"m1":450,"D":162},
      {"h":4,"t0":68,"t1":72,"m0":249,"m1":256,"D":21},{"h":4,"t0":72,"t1":76,"m0":253,"m1":256,"D":21},{"h":4,"t0":68,"t1":76,"m0":256,"m1":260,"D":32},{"h":4,"t0":68,"t1":76,"m0":260,"m1":270,"D":42},{"h":4,"t0":68,"t1":76,"m0":270,"m1":280,"D":52},{"h":4,"t0":68,"t1":76,"m0":280,"m1":290,"D":60},{"h":4,"t0":68,"t1":76,"m0":290,"m1":300,"D":67},{"h":4,"t0":68,"t1":76,"m0":300,"m1":310,"D":73},{"h":4,"t0":68,"t1":76,"m0":310,"m1":320,"D":78},{"h":4,"t0":68,"t1":76,"m0":320,"m1":330,"D":84},{"h":4,"t0":68,"t1":76,"m0":330,"m1":340,"D":89},{"h":4,"t0":68,"t1":76,"m0":340,"m1":350,"D":95},{"h":4,"t0":68,"t1":76,"m0":350,"m1":360,"D":101},{"h":4,"t0":68,"t1":76,"m0":360,"m1":370,"D":107},{"h":4,"t0":68,"t1":76,"m0":370,"m1":380,"D":113},{"h":4,"t0":68,"t1":76,"m0":380,"m1":390,"D":120},{"h":4,"t0":68,"t1":76,"m0":390,"m1":400,"D":127},{"h":4,"t0":68,"t1":76,"m0":400,"m1":410,"D":134},{"h":4,"t0":68,"t1":76,"m0":410,"m1":420,"D":141},{"h":4,"t0":68,"t1":76,"m0":420,"m1":430,"D":148},{"h":4,"t0":68,"t1":76,"m0":430,"m1":440,"D":154},{"h":4,"t0":68,"t1":76,"m0":440,"m1":450,"D":160},
      {"h":4,"t0":76,"t1":80,"m0":259,"m1":267,"D":22},{"h":4,"t0":80,"t1":84,"m0":265,"m1":267,"D":22},{"h":4,"t0":76,"t1":84,"m0":267,"m1":270,"D":31},{"h":4,"t0":76,"t1":84,"m0":270,"m1":280,"D":41},{"h":4,"t0":76,"t1":84,"m0":280,"m1":290,"D":52},{"h":4,"t0":76,"t1":84,"m0":290,"m1":300,"D":60},{"h":4,"t0":76,"t1":84,"m0":300,"m1":310,"D":67},{"h":4,"t0":76,"t1":84,"m0":310,"m1":320,"D":73},{"h":4,"t0":76,"t1":84,"m0":320,"m1":330,"D":79},{"h":4,"t0":76,"t1":84,"m0":330,"m1":340,"D":85},{"h":4,"t0":76,"t1":84,"m0":340,"m1":350,"D":91},{"h":4,"t0":76,"t1":84,"m0":350,"m1":360,"D":98},{"h":4,"t0":76,"t1":84,"m0":360,"m1":370,"D":104},{"h":4,"t0":76,"t1":84,"m0":370,"m1":380,"D":110},{"h":4,"t0":76,"t1":84,"m0":380,"m1":390,"D":117},{"h":4,"t0":76,"t1":84,"m0":390,"m1":400,"D":124},{"h":4,"t0":76,"t1":84,"m0":400,"m1":410,"D":132},{"h":4,"t0":76,"t1":84,"m0":410,"m1":420,"D":139},{"h":4,"t0":76,"t1":84,"m0":420,"m1":430,"D":145},{"h":4,"t0":76,"t1":84,"m0":430,"m1":440,"D":152},{"h":4,"t0":76,"t1":84,"m0":440,"m1":450,"D":158},
      {"h":4,"t0":84,"t1":88,"m0":272,"m1":281,"D":23},{"h":4,"t0":88,"t1":92,"m0":280,"m1":281,"D":23},{"h":4,"t0":84,"t1":92,"m0":281,"m1":290,"D":38},{"h":4,"t0":84,"t1":92,"m0":290,"m1":300,"D":50},{"h":4,"t0":84,"t1":92,"m0":300,"m1":310,"D":59},{"h":4,"t0":84,"t1":92,"m0":310,"m1":320,"D":67},{"h":4,"t0":84,"t1":92,"m0":320,"m1":330,"D":73},{"h":4,"t0":84,"t1":92,"m0":330,"m1":340,"D":80},{"h":4,"t0":84,"t1":92,"m0":340,"m1":350,"D":87},{"h":4,"t0":84,"t1":92,"m0":350,"m1":360,"D":93},{"h":4,"t0":84,"t1":92,"m0":360,"m1":370,"D":100},{"h":4,"t0":84,"t1":92,"m0":370,"m1":380,"D":107},{"h":4,"t0":84,"t1":92,"m0":380,"m1":390,"D":114},{"h":4,"t0":84,"t1":92,"m0":390,"m1":400,"D":121},{"h":4,"t0":84,"t1":92,"m0":400,"m1":410,"D":129},{"h":4,"t0":84,"t1":92,"m0":410,"m1":420,"D":136},{"h":4,"t0":84,"t1":92,"m0":420,"m1":430,"D":143},{"h":4,"t0":84,"t1":92,"m0":430,"m1":440,"D":149},{"h":4,"t0":84,"t1":92,"m0":440,"m1":450,"D":156},
      {"h":4,"t0":92,"t1":96,"m0":287,"m1":296,"D":27},{"h":4,"t0":96,"t1":100,"m0":294,"m1":296,"D":27},{"h":4,"t0":92,"t1":100,"m0":296,"m1":300,"D":37},{"h":4,"t0":92,"t1":100,"m0":300,"m1":310,"D":48},{"h":4,"t0":92,"t1":100,"m0":310,"m1":320,"D":58},{"h":4,"t0":92,"t1":100,"m0":320,"m1":330,"D":66},{"h":4,"t0":92,"t1":100,"m0":330,"m1":340,"D":74},{"h":4,"t0":92,"t1":100,"m0":340,"m1":350,"D":82},{"h":4,"t0":92,"t1":100,"m0":350,"m1":360,"D":89},{"h":4,"t0":92,"t1":100,"m0":360,"m1":370,"D":96},{"h":4,"t0":92,"t1":100,"m0":370,"m1":380,"D":102},{"h":4,"t0":92,"t1":100,"m0":380,"m1":390,"D":110},{"h":4,"t0":92,"t1":100,"m0":390,"m1":400,"D":117},{"h":4,"t0":92,"t1":100,"m0":400,"m1":410,"D":125},{"h":4,"t0":92,"t1":100,"m0":410,"m1":420,"D":133},{"h":4,"t0":92,"t1":100,"m0":420,"m1":430,"D":139},{"h":4,"t0":92,"t1":100,"m0":430,"m1":440,"D":146},{"h":4,"t0":92,"t1":100,"m0":440,"m1":450,"D":153},
      {"h":4,"t0":100,"t1":104,"m0":301,"m1":309,"D":26},{"h":4,"t0":104,"t1":108,"m0":307,"m1":309,"D":26},{"h":4,"t0":100,"t1":108,"m0":309,"m1":320,"D":43},{"h":4,"t0":100,"t1":108,"m0":320,"m1":330,"D":56},{"h":4,"t0":100,"t1":108,"m0":330,"m1":340,"D":66},{"h":4,"t0":100,"t1":108,"m0":340,"m1":350,"D":75},{"h":4,"t0":100,"t1":108,"m0":350,"m1":360,"D":83},{"h":4,"t0":100,"t1":108,"m0":360,"m1":370,"D":90},{"h":4,"t0":100,"t1":108,"m0":370,"m1":380,"D":98},{"h":4,"t0":100,"t1":108,"m0":380,"m1":390,"D":105},{"h":4,"t0":100,"t1":108,"m0":390,"m1":400,"D":113},{"h":4,"t0":100,"t1":108,"m0":400,"m1":410,"D":121},{"h":4,"t0":100,"t1":108,"m0":410,"m1":420,"D":129},{"h":4,"t0":100,"t1":108,"m0":420,"m1":430,"D":136},{"h":4,"t0":100,"t1":108,"m0":430,"m1":440,"D":143},{"h":4,"t0":100,"t1":108,"m0":440,"m1":450,"D":150},
      {"h":4,"t0":108,"t1":112,"m0":315,"m1":323,"D":27},{"h":4,"t0":112,"t1":116,"m0":321,"m1":323,"D":27},{"h":4,"t0":108,"t1":116,"m0":323,"m1":330,"D":42},{"h":4,"t0":108,"t1":116,"m0":330,"m1":340,"D":55},{"h":4,"t0":108,"t1":116,"m0":340,"m1":350,"D":66},{"h":4,"t0":108,"t1":116,"m0":350,"m1":360,"D":75},{"h":4,"t0":108,"t1":116,"m0":360,"m1":370,"D":83},{"h":4,"t0":108,"t1":116,"m0":370,"m1":380,"D":92},{"h":4,"t0":108,"t1":116,"m0":380,"m1":390,"D":100},{"h":4,"t0":108,"t1":116,"m0":390,"m1":400,"D":108},{"h":4,"t0":108,"t1":116,"m0":400,"m1":410,"D":117},{"h":4,"t0":108,"t1":116,"m0":410,"m1":420,"D":125},{"h":4,"t0":108,"t1":116,"m0":420,"m1":430,"D":132},{"h":4,"t0":108,"t1":116,"m0":430,"m1":440,"D":139},{"h":4,"t0":108,"t1":116,"m0":440,"m1":450,"D":146},
      {"h":4,"t0":116,"t1":120,"m0":328,"m1":336,"D":28},{"h":4,"t0":120,"t1":124,"m0":334,"m1":336,"D":28},{"h":4,"t0":116,"t1":124,"m0":336,"m1":340,"D":41},{"h":4,"t0":116,"t1":124,"m0":340,"m1":350,"D":53},{"h":4,"t0":116,"t1":124,"m0":350,"m1":360,"D":65},{"h":4,"t0":116,"t1":124,"m0":360,"m1":370,"D":75},{"h":4,"t0":116,"t1":124,"m0":370,"m1":380,"D":84},{"h":4,"t0":116,"t1":124,"m0":380,"m1":390,"D":93},{"h":4,"t0":116,"t1":124,"m0":390,"m1":400,"D":102},{"h":4,"t0":116,"t1":124,"m0":400,"m1":410,"D":111},{"h":4,"t0":116,"t1":124,"m0":410,"m1":420,"D":120},{"h":4,"t0":116,"t1":124,"m0":420,"m1":430,"D":127},{"h":4,"t0":116,"t1":124,"m0":430,"m1":440,"D":135},{"h":4,"t0":116,"t1":124,"m0":440,"m1":450,"D":142},
      {"h":4,"t0":124,"t1":128,"m0":341,"m1":349,"D":28},{"h":4,"t0":128,"t1":132,"m0":347,"m1":349,"D":28},{"h":4,"t0":124,"t1":132,"m0":349,"m1":360,"D":47},{"h":4,"t0":124,"t1":132,"m0":360,"m1":370,"D":63},{"h":4,"t0":124,"t1":132,"m0":370,"m1":380,"D":75},{"h":4,"t0":124,"t1":132,"m0":380,"m1":390,"D":85},{"h":4,"t0":124,"t1":132,"m0":390,"m1":400,"D":95},{"h":4,"t0":124,"t1":132,"m0":400,"m1":410,"D":105},{"h":4,"t0":124,"t1":132,"m0":410,"m1":420,"D":114},{"h":4,"t0":124,"t1":132,"m0":420,"m1":430,"D":122},{"h":4,"t0":124,"t1":132,"m0":430,"m1":440,"D":130},{"h":4,"t0":124,"t1":132,"m0":440,"m1":450,"D":138},
      {"h":4,"t0":132,"t1":136,"m0":356,"m1":364,"D":32},{"h":4,"t0":136,"t1":140,"m0":362,"m1":364,"D":32},{"h":4,"t0":132,"t1":140,"m0":364,"m1":370,"D":47},{"h":4,"t0":132,"t1":140,"m0":370,"m1":380,"D":61},{"h":4,"t0":132,"t1":140,"m0":380,"m1":390,"D":74},{"h":4,"t0":132,"t1":140,"m0":390,"m1":400,"D":86},{"h":4,"t0":132,"t1":140,"m0":400,"m1":410,"D":98},{"h":4,"t0":132,"t1":140,"m0":410,"m1":420,"D":108},{"h":4,"t0":132,"t1":140,"m0":420,"m1":430,"D":116},{"h":4,"t0":132,"t1":140,"m0":430,"m1":440,"D":125},{"h":4,"t0":132,"t1":140,"m0":440,"m1":450,"D":132},
      {"h":4,"t0":140,"t1":144,"m0":369,"m1":377,"D":32},{"h":4,"t0":144,"t1":148,"m0":375,"m1":377,"D":32},{"h":4,"t0":140,"t1":148,"m0":377,"m1":380,"D":45},{"h":4,"t0":140,"t1":148,"m0":380,"m1":390,"D":59},{"h":4,"t0":140,"t1":148,"m0":390,"m1":400,"D":75},{"h":4,"t0":140,"t1":148,"m0":400,"m1":410,"D":88},{"h":4,"t0":140,"t1":148,"m0":410,"m1":420,"D":100},{"h":4,"t0":140,"t1":148,"m0":420,"m1":430,"D":109},{"h":4,"t0":140,"t1":148,"m0":430,"m1":440,"D":118},{"h":4,"t0":140,"t1":148,"m0":440,"m1":450,"D":127},
      {"h":4,"t0":148,"t1":152,"m0":382,"m1":390,"D":35},{"h":4,"t0":152,"t1":156,"m0":388,"m1":390,"D":35},{"h":4,"t0":148,"t1":156,"m0":390,"m1":400,"D":57},{"h":4,"t0":148,"t1":156,"m0":400,"m1":410,"D":76},{"h":4,"t0":148,"t1":156,"m0":410,"m1":420,"D":90},{"h":4,"t0":148,"t1":156,"m0":420,"m1":430,"D":101},{"h":4,"t0":148,"t1":156,"m0":430,"m1":440,"D":111},{"h":4,"t0":148,"t1":156,"m0":440,"m1":450,"D":120},
      {"h":4,"t0":156,"t1":160,"m0":394,"m1":402,"D":38},{"h":4,"t0":160,"t1":164,"m0":400,"m1":402,"D":38},{"h":4,"t0":156,"t1":164,"m0":402,"m1":410,"D":59},{"h":4,"t0":156,"t1":164,"m0":410,"m1":420,"D":76},{"h":4,"t0":156,"t1":164,"m0":420,"m1":430,"D":90},{"h":4,"t0":156,"t1":164,"m0":430,"m1":440,"D":102},{"h":4,"t0":156,"t1":164,"m0":440,"m1":450,"D":112},
      {"h":4,"t0":164,"t1":168,"m0":405,"m1":413,"D":35},{"h":4,"t0":168,"t1":172,"m0":411,"m1":413,"D":35},{"h":4,"t0":164,"t1":172,"m0":413,"m1":420,"D":58},{"h":4,"t0":164,"t1":172,"m0":420,"m1":430,"D":75},{"h":4,"t0":164,"t1":172,"m0":430,"m1":440,"D":90},{"h":4,"t0":164,"t1":172,"m0":440,"m1":450,"D":102},
      {"h":4,"t0":172,"t1":176,"m0":417,"m1":425,"D":38},{"h":4,"t0":176,"t1":180,"m0":423,"m1":425,"D":38},{"h":4,"t0":172,"t1":180,"m0":425,"m1":430,"D":57},{"h":4,"t0":172,"t1":180,"m0":430,"m1":440,"D":74},{"h":4,"t0":172,"t1":180,"m0":440,"m1":450,"D":89}
    ],
    "lines": [
      {"h":2,"m":317,"t":5.5},{"h":2,"m":324,"t":6},{"h":2,"m":331,"t":14},{"h":2,"m":338,"t":21.5},{"h":2,"m":342,"t":22.5},{"h":2,"m":348,"t":22},{"h":2,"m":356,"t":19.5},{"h":2,"m":363,"t":17},{"h":2,"m":369,"t":14.5},{"h":2,"m":373,"t":13},{"h":2,"m":376,"t":9},{"h":2,"m":379,"t":4},
      {"h":3,"m":305,"t":4},{"h":3,"m":307,"t":8.5},{"h":3,"m":309,"t":9.5},{"h":3,"m":313,"t":7.5},{"h":3,"m":317,"t":5.5},{"h":3,"m":321,"t":4}
    ]
  },
  "vconcat": [
    {
      "hconcat": [
        {
          "title": {"text": "ℎΔ = 2"},
          "width": 384, "height": 383,
          "layer": [
            {
              "data": {"name": "cells"},
              "transform": [{"filter": "datum.h == 2"}],
              "mark": {"type": "rect"},
              "encoding": {
                "x": {"field": "m0", "type": "quantitative", "scale": {"domain": [-11.1, 461.5], "nice": false, "zero": false}, "axis": {"title": "μ [MeV]", "values": [0, 100, 200, 300, 400]}},
                "x2": {"field": "m1"},
                "y": {"field": "t0", "type": "quantitative", "scale": {"domain": [-0.2, 184.8], "nice": false, "zero": false}, "axis": {"title": "T [MeV]", "values": [50, 100, 150]}},
                "y2": {"field": "t1"},
                "color": {"field": "D", "type": "quantitative", "scale": {"domain": [0, 17.2, 37.2, 54.3, 71.5, 97.2, 120.1, 143], "range": ["#255288", "#3f63a5", "#7a7a8e", "#a7876a", "#e59d48", "#eeb463", "#f6cc8b", "#fff2c4"]}, "legend": {"title": null, "values": [0, 20, 40, 60, 80, 100, 120, 140]}}
              }
            },
            {
              "data": {"name": "cells"},
              "transform": [{"filter": "datum.h == 2 && datum.D > 0"}],
              "mark": {"type": "rect"},
              "encoding": {
                "x": {"field": "m0", "type": "quantitative", "axis": null},
                "x2": {"field": "m1"},
                "y": {"field": "t0", "type": "quantitative", "axis": null},
                "y2": {"field": "t1"},
                "color": {"field": "D", "type": "quantitative"}
              }
            },
            {
              "data": {"name": "lines"},
              "transform": [{"filter": "datum.h == 2"}],
              "mark": {"type": "line", "color": "#000000", "strokeWidth": 2, "strokeDash": [5, 4]},
              "encoding": {
                "x": {"field": "m", "type": "quantitative", "axis": {"orient": "top", "labels": false, "title": null, "values": [0, 100, 200, 300, 400]}},
                "y": {"field": "t", "type": "quantitative", "axis": {"orient": "right", "labels": false, "title": null, "values": [50, 100, 150]}}
              }
            }
          ],
          "resolve": {"axis": {"x": "independent", "y": "independent"}}
        },
        {
          "title": {"text": "ℎΔ = 3"},
          "width": 384, "height": 383,
          "layer": [
            {
              "data": {"name": "cells"},
              "transform": [{"filter": "datum.h == 3"}],
              "mark": {"type": "rect"},
              "encoding": {
                "x": {"field": "m0", "type": "quantitative", "scale": {"domain": [-11.1, 461.5], "nice": false, "zero": false}, "axis": {"title": "μ [MeV]", "values": [0, 100, 200, 300, 400]}},
                "x2": {"field": "m1"},
                "y": {"field": "t0", "type": "quantitative", "scale": {"domain": [-0.2, 184.8], "nice": false, "zero": false}, "axis": {"title": "T [MeV]", "values": [50, 100, 150]}},
                "y2": {"field": "t1"},
                "color": {"field": "D", "type": "quantitative", "scale": {"domain": [0, 19.4, 42.1, 61.6, 81, 110.2, 136.1, 162], "range": ["#255288", "#3f63a5", "#7a7a8e", "#a7876a", "#e59d48", "#eeb463", "#f6cc8b", "#fff2c4"]}, "legend": {"title": null, "values": [0, 20, 40, 60, 80, 100, 120, 140]}}
              }
            },
            {
              "data": {"name": "cells"},
              "transform": [{"filter": "datum.h == 3 && datum.D > 0"}],
              "mark": {"type": "rect"},
              "encoding": {
                "x": {"field": "m0", "type": "quantitative", "axis": null},
                "x2": {"field": "m1"},
                "y": {"field": "t0", "type": "quantitative", "axis": null},
                "y2": {"field": "t1"},
                "color": {"field": "D", "type": "quantitative"}
              }
            },
            {
              "data": {"name": "lines"},
              "transform": [{"filter": "datum.h == 3"}],
              "mark": {"type": "line", "color": "#000000", "strokeWidth": 2, "strokeDash": [5, 4]},
              "encoding": {
                "x": {"field": "m", "type": "quantitative", "axis": {"orient": "top", "labels": false, "title": null, "values": [0, 100, 200, 300, 400]}},
                "y": {"field": "t", "type": "quantitative", "axis": {"orient": "right", "labels": false, "title": null, "values": [50, 100, 150]}}
              }
            }
          ],
          "resolve": {"axis": {"x": "independent", "y": "independent"}}
        }
      ],
      "spacing": 15,
      "resolve": {"scale": {"color": "independent"}}
    },
    {
      "title": {"text": "ℎΔ = 4"},
      "width": 384, "height": 383,
      "layer": [
        {
          "data": {"name": "cells"},
          "transform": [{"filter": "datum.h == 4"}],
          "mark": {"type": "rect"},
          "encoding": {
            "x": {"field": "m0", "type": "quantitative", "scale": {"domain": [-11.1, 461.5], "nice": false, "zero": false}, "axis": {"title": "μ [MeV]", "values": [0, 100, 200, 300, 400]}},
            "x2": {"field": "m1"},
            "y": {"field": "t0", "type": "quantitative", "scale": {"domain": [-0.2, 184.8], "nice": false, "zero": false}, "axis": {"title": "T [MeV]", "values": [50, 100, 150]}},
            "y2": {"field": "t1"},
            "color": {"field": "D", "type": "quantitative", "scale": {"domain": [0, 20.6, 44.7, 65.4, 86, 117, 144.5, 172], "range": ["#255288", "#3f63a5", "#7a7a8e", "#a7876a", "#e59d48", "#eeb463", "#f6cc8b", "#fff2c4"]}, "legend": {"title": null, "values": [0, 20, 40, 60, 80, 100, 120, 140]}}
          }
        },
        {
          "data": {"name": "cells"},
          "transform": [{"filter": "datum.h == 4 && datum.D > 0"}],
          "mark": {"type": "rect"},
          "encoding": {
            "x": {"field": "m0", "type": "quantitative", "axis": null},
            "x2": {"field": "m1"},
            "y": {"field": "t0", "type": "quantitative", "axis": null},
            "y2": {"field": "t1"},
            "color": {"field": "D", "type": "quantitative"}
          }
        },
        {
          "data": {"name": "lines"},
          "transform": [{"filter": "datum.h == 4"}],
          "mark": {"type": "line", "color": "#000000", "strokeWidth": 2, "strokeDash": [5, 4]},
          "encoding": {
            "x": {"field": "m", "type": "quantitative", "axis": {"orient": "top", "labels": false, "title": null, "values": [0, 100, 200, 300, 400]}},
            "y": {"field": "t", "type": "quantitative", "axis": {"orient": "right", "labels": false, "title": null, "values": [50, 100, 150]}}
          }
        }
      ],
      "resolve": {"axis": {"x": "independent", "y": "independent"}}
    }
  ],
  "spacing": 34,
  "center": true,
  "resolve": {"scale": {"color": "independent"}},
  "config": {
    "font": "Liberation Sans",
    "view": {"stroke": "#a6a6a6", "strokeWidth": 1},
    "axis": {"grid": false, "domain": false, "labelFontSize": 16, "labelColor": "#1a1a1a", "labelFont": "Liberation Sans", "titleFontSize": 16, "titleFontWeight": "normal", "titleColor": "#1a1a1a", "titleFont": "Liberation Sans", "tickColor": "#b0b0b0", "tickSize": -4, "labelPadding": 10, "titlePadding": 6},
    "axisX": {"labelPadding": 12, "titlePadding": 4},
    "legend": {"gradientLength": 377, "gradientThickness": 18, "labelFontSize": 16, "labelColor": "#1a1a1a", "labelFont": "Liberation Sans", "labelOffset": 8, "offset": 17, "padding": 6, "gradientStrokeColor": "#cccccc", "gradientStrokeWidth": 1, "labelBaseline": "middle"},
    "title": {"fontSize": 16, "fontWeight": "normal", "font": "Liberation Sans", "color": "#1a1a1a", "offset": 0, "frame": "group"}
  }
}
